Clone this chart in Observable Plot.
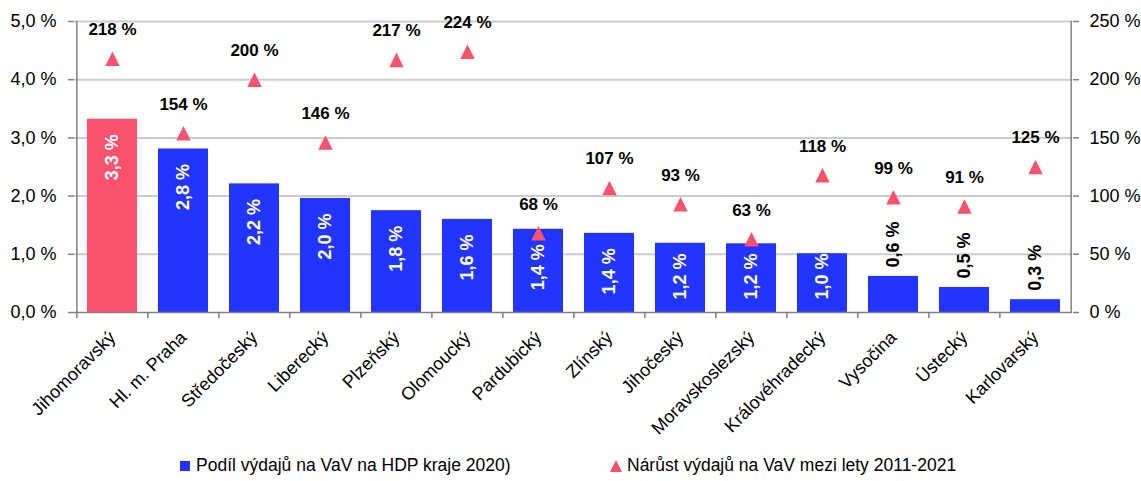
<!DOCTYPE html>
<html>
<head>
<meta charset="utf-8">
<script src="https://cdn.jsdelivr.net/npm/d3@7"></script>
<script src="https://cdn.jsdelivr.net/npm/@observablehq/plot@0.6"></script>
<style>
  html, body { margin: 0; padding: 0; background: #fff; }
  body { font-family: "Liberation Sans", Arial, sans-serif; width: 1141px; }
  #legend { position: relative; width: 1141px; height: 31px; font-size: 17.5px; color: #000; }
  .item { position: absolute; top: 5px; display: flex; align-items: center; white-space: nowrap; }
  .sq { width: 10px; height: 10px; margin-right: 6px; }
  .tri { width: 0; height: 0; border-left: 6px solid transparent; border-right: 6px solid transparent; border-bottom: 12px solid; margin-right: 5px; }
</style>
</head>
<body>
<div id="chart"></div>
<div id="legend"></div>
<script>
const categories = ["Jihomoravský","Hl. m. Praha","Středočeský","Liberecký","Plzeňský","Olomoucký","Pardubický","Zlínský","Jihočeský","Moravskoslezský","Královéhradecký","Vysočina","Ústecký","Karlovarský"];
const share = [3.32, 2.81, 2.21, 1.96, 1.75, 1.60, 1.43, 1.36, 1.19, 1.18, 1.01, 0.62, 0.43, 0.22];
const shareLabels = ["3,3 %","2,8 %","2,2 %","2,0 %","1,8 %","1,6 %","1,4 %","1,4 %","1,2 %","1,2 %","1,0 %","0,6 %","0,5 %","0,3 %"];
const growth = [218, 154, 200, 146, 217, 224, 68, 107, 93, 63, 118, 99, 91, 125];
const yTicks = [0, 1, 2, 3, 4, 5];
const y2Ticks = [0, 50, 100, 150, 200, 250];
const highlight = "Jihomoravský";
const seriesNames = ["Podíl výdajů na VaV na HDP kraje 2020)", "Nárůst výdajů na VaV mezi lety 2011-2021"];

const BLUE = "#2135FF", PINK = "#F9526F", AXIS = "#808080", GRID = "#cccccc";
const W = 1141, H = 450, ML = 74, MR = 69, MT = 21, MB = 138;
const step = (W - ML - MR) / categories.length;
const ratio = y2Ticks[y2Ticks.length - 1] / yTicks[yTicks.length - 1];
const pxPerUnit = (H - MT - MB) / yTicks[yTicks.length - 1];

const data = categories.map((c, i) => ({region: c, share: share[i], label: shareLabels[i], growth: growth[i]}));

const triangle = {
  draw(ctx, size) {
    const h = Math.sqrt(size);
    ctx.moveTo(0, -h / 2);
    ctx.lineTo(h / 2, h / 2);
    ctx.lineTo(-h / 2, h / 2);
    ctx.closePath();
  }
};

const fmtL = d => d.toFixed(1).replace(".", ",") + " %";
const fmtR = d => `${d * ratio} %`;
const tickLen = 6 / pxPerUnit;
const labelFloor = 1.27;

const chart = Plot.plot({
  width: W, height: H,
  marginLeft: ML, marginRight: MR, marginTop: MT, marginBottom: MB,
  style: {fontFamily: "'Liberation Sans', Arial, sans-serif", color: "#000", background: "#fff", overflow: "visible"},
  x: {type: "band", domain: categories, paddingInner: 0.3, paddingOuter: 0.15, axis: null},
  y: {domain: [0, 5], axis: null},
  color: {type: "identity"},
  marks: [
    Plot.ruleY(yTicks.filter(d => d > 0), {stroke: GRID, strokeWidth: 2}),
    Plot.barY(data, {x: "region", y: "share", fill: d => d.region === highlight ? PINK : BLUE}),
    Plot.ruleY([0], {stroke: AXIS, strokeWidth: 1.5}),
    Plot.ruleX([categories[0]], {dx: -step / 2, y1: 0, y2: 5, stroke: AXIS, strokeWidth: 1.5}),
    Plot.ruleX([categories[categories.length - 1]], {dx: step / 2, y1: 0, y2: 5, stroke: AXIS, strokeWidth: 1.5}),
    Plot.ruleX(categories, {dx: -step / 2, y1: 0, y2: -tickLen, stroke: AXIS, strokeWidth: 1.5}),
    Plot.text(data.filter(d => d.share >= 1), {
      x: "region", y: d => Math.max(d.share, labelFloor), text: "label",
      rotate: -90, textAnchor: "end", dy: 15,
      fill: "white", fontWeight: "bold", fontSize: 18
    }),
    Plot.text(data.filter(d => d.share < 1), {
      x: "region", y: "share", text: "label",
      rotate: -90, textAnchor: "start", dy: -9,
      fill: "black", fontWeight: "bold", fontSize: 18
    }),
    Plot.dot(data, {x: "region", y: d => d.growth / ratio, symbol: triangle, r: 8.2, fill: PINK, stroke: null}),
    Plot.text(data, {
      x: "region", y: d => d.growth / ratio, text: d => `${d.growth} %`,
      dy: -29, fill: "black", fontWeight: "bold", fontSize: 17
    }),
    Plot.axisY(yTicks, {anchor: "left", label: null, tickSize: 6, tickPadding: 12, tickFormat: fmtL, fontSize: 18, stroke: AXIS, strokeWidth: 1.5}),
    Plot.axisY(yTicks, {anchor: "right", label: null, tickSize: 6, tickPadding: 11, tickFormat: fmtR, fontSize: 18, stroke: AXIS, strokeWidth: 1.5}),
    Plot.axisX(categories, {label: null, tickSize: 0, tickRotate: -45, tickPadding: 22, fontSize: 18})
  ]
});
document.getElementById("chart").appendChild(chart);

const legend = document.getElementById("legend");
const items = [
  {name: seriesNames[0], color: BLUE, shape: "sq", left: 180},
  {name: seriesNames[1], color: PINK, shape: "tri", left: 610}
];
for (const it of items) {
  const div = document.createElement("div");
  div.className = "item";
  div.style.left = it.left + "px";
  const sw = document.createElement("span");
  sw.className = it.shape;
  if (it.shape === "sq") sw.style.background = it.color; else sw.style.borderBottomColor = it.color;
  const t = document.createElement("span");
  t.textContent = it.name;
  div.appendChild(sw); div.appendChild(t);
  legend.appendChild(div);
}
</script>
</body>
</html>
